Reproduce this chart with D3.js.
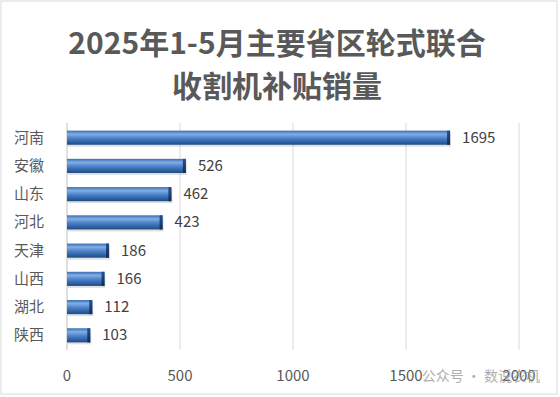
<!DOCTYPE html>
<html>
<head>
<meta charset="utf-8">
<script src="https://cdn.jsdelivr.net/npm/d3@7"></script>
<style>
  body { margin: 0; background: #fff; }
</style>
</head>
<body>
<script>
// data
var provinces = ["河南", "安徽", "山东", "河北", "天津", "山西", "湖北", "陕西"];
var sales = [1695, 526, 462, 423, 186, 166, 112, 103];
var xTicks = [0, 500, 1000, 1500, 2000];
var titleLines = ["2025年1-5月主要省区轮式联合", "收割机补贴销量"];

var w = 560, h = 397;
var margin = {left: 67, right: 41, top: 123, bottom: 47};

var svg = d3.select("body").append("svg")
    .attr("width", w)
    .attr("height", h)
    .style("font-family", "'Noto Sans CJK SC', 'Noto Sans', sans-serif");

svg.append("rect")
    .attr("x", 1).attr("y", 1)
    .attr("width", w - 4).attr("height", h - 4)
    .attr("fill", "#fff")
    .attr("stroke", "#d9d9d9");

var defs = svg.append("defs");
var grad = defs.append("linearGradient")
    .attr("id", "barGrad")
    .attr("x1", 0).attr("y1", 0).attr("x2", 0).attr("y2", 1);
grad.append("stop").attr("offset", "0%").attr("stop-color", "#3a6cb0");
grad.append("stop").attr("offset", "25%").attr("stop-color", "#80aee6");
grad.append("stop").attr("offset", "55%").attr("stop-color", "#4a80c8");
grad.append("stop").attr("offset", "100%").attr("stop-color", "#1d4a86");

var capGrad = defs.append("linearGradient")
    .attr("id", "capGrad")
    .attr("x1", 0).attr("y1", 0).attr("x2", 0).attr("y2", 1);
capGrad.append("stop").attr("offset", "0%").attr("stop-color", "#244f8c");
capGrad.append("stop").attr("offset", "50%").attr("stop-color", "#1b3f75");
capGrad.append("stop").attr("offset", "100%").attr("stop-color", "#122c55");

var x = d3.scaleLinear()
    .domain([0, 2000])
    .range([margin.left, w - margin.right]);

var y = d3.scaleBand()
    .domain(provinces)
    .range([margin.top, h - margin.bottom])
    .paddingInner(0.5)
    .paddingOuter(0.27);

// gridlines
svg.selectAll("line.grid")
    .data(xTicks)
    .enter()
    .append("line")
    .attr("class", "grid")
    .attr("x1", function(d) { return x(d); })
    .attr("x2", function(d) { return x(d); })
    .attr("y1", margin.top)
    .attr("y2", h - margin.bottom)
    .attr("stroke", function(d) { return d === 0 ? "#bfbfbf" : "#d9d9d9"; })
    .attr("stroke-width", 1);

// x tick labels
svg.selectAll("text.tick")
    .data(xTicks)
    .enter()
    .append("text")
    .attr("class", "tick")
    .attr("x", function(d) { return x(d); })
    .attr("y", 381)
    .attr("text-anchor", "middle")
    .attr("font-size", "15px")
    .attr("fill", "#595959")
    .text(function(d) { return d; });

// category labels
svg.selectAll("text.cat")
    .data(provinces)
    .enter()
    .append("text")
    .attr("class", "cat")
    .attr("x", 14)
    .attr("y", function(d) { return y(d) + y.bandwidth() / 2 + 5; })
    .attr("font-size", "15px")
    .attr("fill", "#595959")
    .text(function(d) { return d; });

var bars = svg.selectAll("g.bar")
    .data(sales)
    .enter()
    .append("g")
    .attr("class", "bar");

// shadow
bars.append("rect")
    .attr("x", x(0) + 1)
    .attr("y", function(d, i) { return y(provinces[i]) + 2; })
    .attr("width", function(d) { return x(d) - x(0); })
    .attr("height", y.bandwidth())
    .attr("fill", "#000")
    .attr("opacity", 0.12);

bars.append("rect")
    .attr("x", x(0))
    .attr("y", function(d, i) { return y(provinces[i]); })
    .attr("width", function(d) { return x(d) - x(0); })
    .attr("height", y.bandwidth())
    .attr("fill", "url(#barGrad)");

// dark end cap
bars.append("rect")
    .attr("x", function(d) { return x(d) - 3; })
    .attr("y", function(d, i) { return y(provinces[i]); })
    .attr("width", 3)
    .attr("height", y.bandwidth())
    .attr("fill", "url(#capGrad)");

// value labels
svg.selectAll("text.val")
    .data(sales)
    .enter()
    .append("text")
    .attr("class", "val")
    .attr("x", function(d) { return x(d) + 12; })
    .attr("y", function(d, i) { return y(provinces[i]) + y.bandwidth() / 2 + 5; })
    .attr("font-size", "15px")
    .attr("fill", "#404040")
    .text(function(d) { return d; });

// title
svg.selectAll("text.title")
    .data(titleLines)
    .enter()
    .append("text")
    .attr("class", "title")
    .attr("x", 277)
    .attr("y", function(d, i) { return 54 + i * 43; })
    .attr("text-anchor", "middle")
    .attr("font-size", "30px")
    .attr("font-weight", "bold")
    .attr("fill", "#595959")
    .text(function(d) { return d; });

// watermark (overlaps the last tick labels, as in the source image)
svg.append("text")
    .attr("x", 540)
    .attr("y", 381)
    .attr("text-anchor", "end")
    .attr("font-size", "14px")
    .attr("fill", "#9a9a9a")
    .attr("opacity", 0.8)
    .text("公众号 · 数说农机");
</script>
</body>
</html>
